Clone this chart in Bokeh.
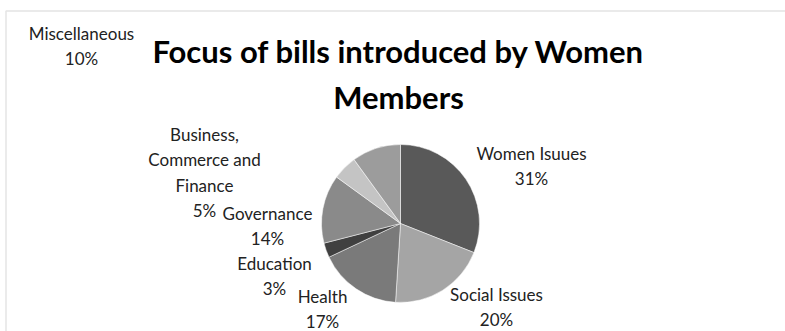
import numpy as np
from bokeh.plotting import figure
from bokeh.models import Range1d, BoxAnnotation, ColumnDataSource
from bokeh.core.properties import value
from bokeh.embed import file_html
from bokeh.resources import INLINE

categories = ["Women Isuues", "Social Issues", "Health", "Education",
              "Governance", "Business,\nCommerce and\nFinance", "Miscellaneous"]
shares = [31, 20, 17, 3, 14, 5, 10]
colors = ["#595959", "#a5a5a5", "#7a7a7a", "#404040", "#8a8a8a", "#c4c4c4", "#9c9c9c"]

# label anchor positions (pixel coords, top-left origin) - layout only
label_x = [531, 496, 322, 274, 267, 204, 81]
label_y_top = [142, 283, 285, 252, 202, 123, 22]

W, H = 785, 331
p = figure(width=W, height=H, x_range=Range1d(0, W), y_range=Range1d(0, H),
           output_backend="svg", toolbar_location=None, min_border=0)
p.axis.visible = False
p.grid.visible = False
p.outline_line_color = None
p.background_fill_color = "white"
p.border_fill_color = "white"

p.add_layout(BoxAnnotation(left=5.5, right=W + 20, bottom=-20, top=H - 10.5,
                           fill_alpha=0, line_color="#a6a6a6", line_width=1.5))

vals = np.array(shares, dtype=float)
frac = vals / vals.sum()
cum = np.concatenate([[0], np.cumsum(frac)])
start = np.pi / 2 - 2 * np.pi * cum[1:]
end = np.pi / 2 - 2 * np.pi * cum[:-1]

cx, cy, r = 400, H - 223, 79
src = ColumnDataSource(dict(start=start, end=end, color=colors))
p.wedge(x=cx, y=cy, radius=r, start_angle="start", end_angle="end",
        fill_color="color", line_color="white", line_width=0.5, source=src)

texts = [f"{c}\n{s}%" for c, s in zip(categories, shares)]
p.text(x=label_x, y=[H - v for v in label_y_top], text=texts,
       text_align="center", text_baseline="top", text_font=value("Lato"),
       text_font_size="17px", text_color="#222222", text_line_height=1.22)

p.text(x=[398], y=[H - 31], text=["Focus of bills introduced by Women\nMembers"],
       text_align="center", text_baseline="top", text_font=value("Lato"),
       text_font_style="bold", text_font_size="31px", text_color="#000000",
       text_line_height=1.22)

open("out.html", "w").write(file_html(p, INLINE))
